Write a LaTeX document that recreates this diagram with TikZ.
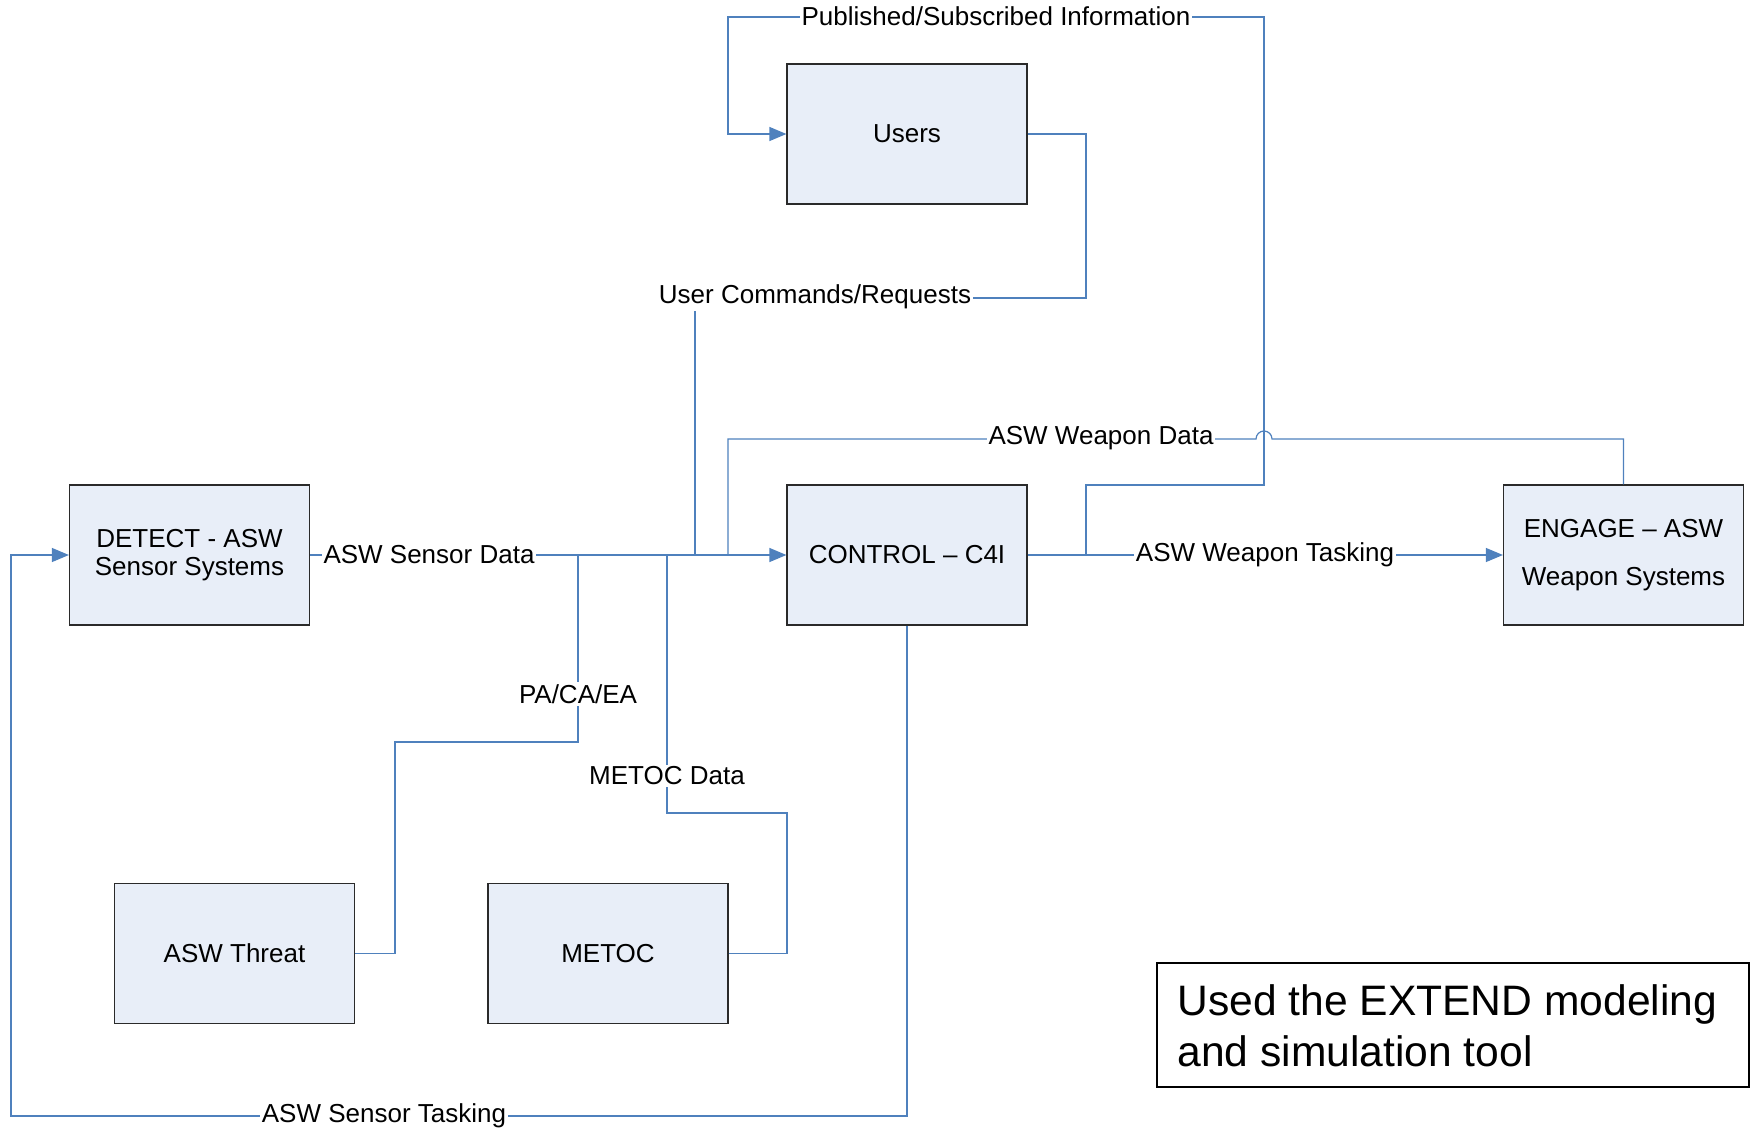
\documentclass[tikz,border=0pt]{standalone}
\usepackage{fontspec}
\setmainfont{Liberation Sans}
\usetikzlibrary{arrows.meta}
\definecolor{lnblue}{HTML}{4F81BD}
\definecolor{boxfill}{HTML}{E8EEF8}
\definecolor{boxline}{HTML}{2A2A2A}
\begin{document}
\begin{tikzpicture}[x=0.5pt,y=-0.5pt,
  blockbox/.style={draw=boxline,line width=0.6pt,fill=boxfill,minimum width=120pt,minimum height=70pt,inner sep=0pt,align=center,font=\fontsize{13}{14}\selectfont},
  conn/.style={draw=lnblue,line width=0.6pt},
  arr/.style={conn,-{Triangle[length=8.5pt,width=7pt]}},
  lbl/.style={fill=white,inner sep=1pt,font=\fontsize{13}{15}\selectfont}]
\useasboundingbox (0,0) rectangle (1750,1129);
% blocks
\node[blockbox] (users) at (907,134) {Users};
\node[blockbox] (detect) at (189.5,555) {DETECT - ASW\\Sensor Systems};
\node[blockbox] (control) at (907,555) {CONTROL -- C4I};
\node[blockbox] (engage) at (1623.5,555) {ENGAGE -- ASW\\[10pt]Weapon Systems};
\node[blockbox] (threat) at (234.5,953.5) {ASW Threat};
\node[blockbox] (metoc) at (608,953.5) {METOC};
\node[draw=black,line width=0.9pt,minimum width=296pt,minimum height=62pt,inner sep=0pt] (note) at (1453,1025) {};
\node[anchor=west,align=left,font=\fontsize{21.3}{25.5}\selectfont,inner sep=0pt] (notetext) at (1177,1026) {Used the EXTEND modeling\\and simulation tool};
% junction coordinates
\coordinate (jpa) at (578,555);
\coordinate (jmet) at (667,555);
\coordinate (juc) at (695,555);
\coordinate (jwd) at (728,555);
\coordinate (jpub) at (1086,555);
% connectors
\draw[arr] (detect.east) -- (control.west);
\draw[conn] (threat.east) -- (395,953.5) -- (395,742) -- (578,742) -- (jpa);
\draw[conn] (metoc.east) -- (787,953.5) -- (787,813) -- (667,813) -- (jmet);
\draw[conn] (users.east) -- (1086,134) -- (1086,298) -- (695,298) -- (juc);
\draw[conn] (engage.north) -- (1623.5,439) -- (1272,439) arc[start angle=0,end angle=-180,radius=8] -- (728,439) -- (jwd);
\draw[arr] (jpub) -- (1086,485) -- (1264,485) -- (1264,17) -- (728,17) -- (728,134) -- (users.west);
\draw[arr] (control.east) -- (engage.west);
\draw[arr] (control.south) -- (907,1116) -- (11,1116) -- (11,555) -- (detect.west);
% labels
\node[lbl] (l1) at (429,555) {ASW Sensor Data};
\node[lbl] (l2) at (578,694) {PA/CA/EA};
\node[lbl] (l3) at (667,776) {METOC Data};
\node[lbl] (l4) at (815,297) {User Commands/Requests};
\node[lbl] (l5) at (1101,438) {ASW Weapon Data};
\node[lbl] (l6) at (996,16) {Published/Subscribed Information};
\node[lbl] (l7) at (1265,555) {ASW Weapon Tasking};
\node[lbl] (l8) at (384,1116) {ASW Sensor Tasking};
\end{tikzpicture}
\end{document}
